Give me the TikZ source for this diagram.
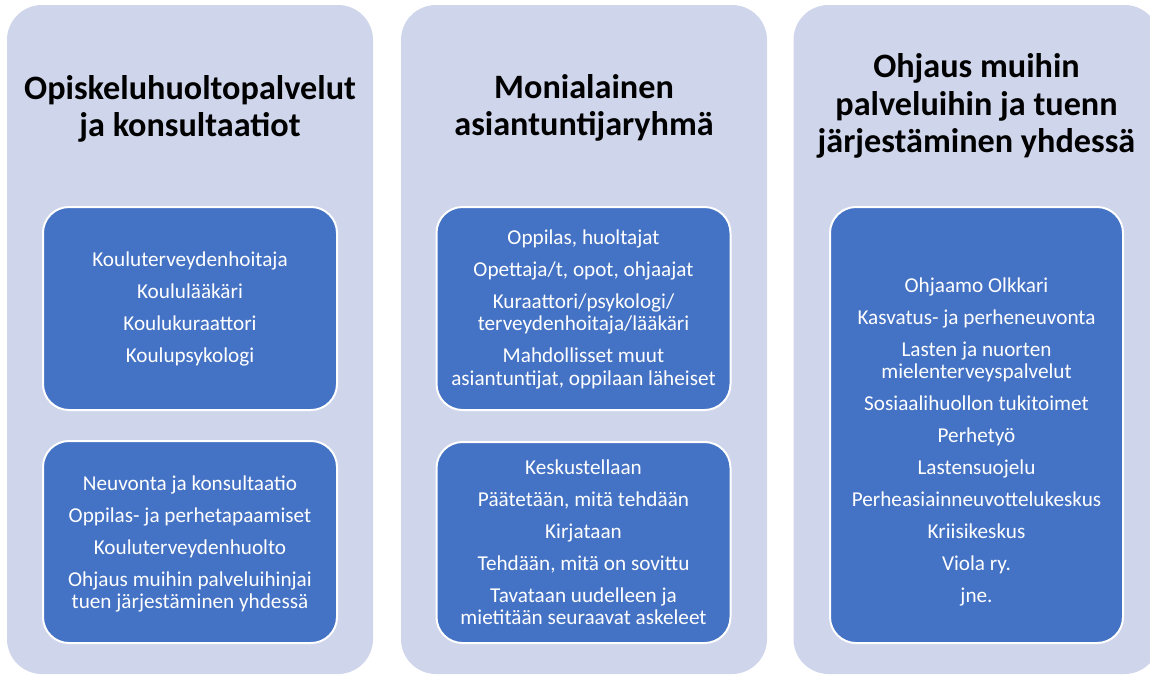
\documentclass[tikz,border=0pt]{standalone}
\usepackage{fontspec}
\setmainfont{Carlito}
\definecolor{colbg}{HTML}{CFD5EA}
\definecolor{boxbg}{HTML}{4472C4}
\tikzset{
  column/.style={fill=colbg, draw=none, rounded corners=35pt, minimum width=366pt, minimum height=669pt, inner sep=0pt},
  bluebox/.style={fill=boxbg, draw=white, line width=2pt, rounded corners=26pt, inner sep=0pt},
  title/.style={align=center, text=black, font=\fontsize{34.2}{37.5}\selectfont\bfseries, inner sep=0pt},
  body/.style={align=center, text=white, font=\fontsize{21.2}{22.5}\selectfont, inner sep=0pt},
}
\newcommand{\gap}{\\[9.5pt]}
\begin{document}
\begin{tikzpicture}[x=1pt,y=-1pt]
\useasboundingbox (0,0) rectangle (1150,675);
\clip (0,0) rectangle (1150,675);
% columns
\node[column] (c1) at (190,339.5) {};
\node[column] (c2) at (584,339.5) {};
\node[column] (c3) at (976.5,339.5) {};
% titles
\node[title] (t1) at (190,109) {Opiskeluhuoltopalvelut\\ja konsultaatiot};
\node[title] (t2) at (584,108) {Monialainen\\asiantuntijaryhmä};
\node[title] (t3) at (976.5,106) {Ohjaus muihin\\palveluihin ja tuenn\\järjestäminen yhdessä};
% blue boxes
\node[bluebox, minimum width=294pt, minimum height=203pt] (b11) at (190,308.5) {};
\node[bluebox, minimum width=294pt, minimum height=202pt] (b12) at (190,542) {};
\node[bluebox, minimum width=294pt, minimum height=203pt] (b21) at (583.5,308.5) {};
\node[bluebox, minimum width=294pt, minimum height=201pt] (b22) at (583.5,542.5) {};
\node[bluebox, minimum width=293pt, minimum height=436pt] (b31) at (976.5,425) {};
% texts
\node[body] (x11) at (190,309) {Kouluterveydenhoitaja\gap Koululääkäri\gap Koulukuraattori\gap Koulupsykologi};
\node[body] (x12) at (190,544) {Neuvonta ja konsultaatio\gap Oppilas- ja perhetapaamiset\gap Kouluterveydenhuolto\gap Ohjaus muihin palveluihinjai\\tuen järjestäminen yhdessä};
\node[body] (x21) at (583.5,309) {Oppilas, huoltajat\gap Opettaja/t, opot, ohjaajat\gap Kuraattori/psykologi/\\terveydenhoitaja/lääkäri\gap Mahdollisset muut\\asiantuntijat, oppilaan läheiset};
\node[body] (x22) at (583.5,542) {Keskustellaan\gap Päätetään, mitä tehdään\gap Kirjataan\gap Tehdään, mitä on sovittu\gap Tavataan uudelleen ja\\mietitään seuraavat askeleet};
\node[body] (x31) at (976.5,442) {Ohjaamo Olkkari\gap Kasvatus- ja perheneuvonta\gap Lasten ja nuorten\\mielenterveyspalvelut\gap Sosiaalihuollon tukitoimet\gap Perhetyö\gap Lastensuojelu\gap Perheasiainneuvottelukeskus\gap Kriisikeskus\gap Viola ry.\gap jne.};
\end{tikzpicture}
\end{document}
